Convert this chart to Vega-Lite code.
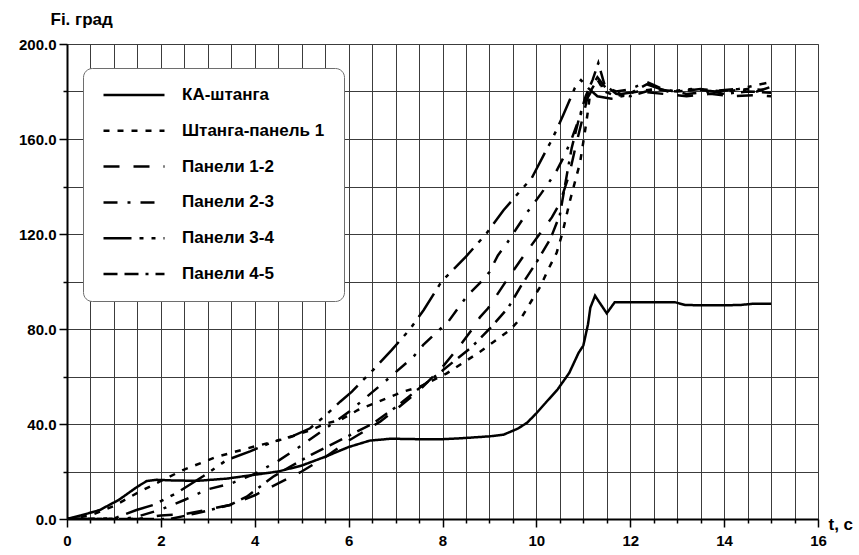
{
  "$schema": "https://vega.github.io/schema/vega-lite/v6.json",
  "width": 751,
  "height": 475,
  "autosize": {"type": "none"},
  "padding": {"left": 67, "top": 44, "right": 41, "bottom": 36},
  "background": "white",
  "config": {
    "view": {"stroke": "#7a7a7a", "strokeWidth": 1},
    "font": "Liberation Sans",
    "axis": {
      "gridColor": "#3c3c3c",
      "gridWidth": 1,
      "gridOpacity": 1,
      "domainColor": "black",
      "domainWidth": 2,
      "tickColor": "black",
      "tickWidth": 1.5,
      "labelFont": "Liberation Sans",
      "labelFontWeight": "bold",
      "labelFontSize": 15,
      "labelColor": "black",
      "labelOverlap": false,
      "labelFlush": false,
      "titleFont": "Liberation Sans",
      "titleFontWeight": "bold",
      "titleColor": "black"
    }
  },
  "data": {
    "values": [
      {"s":"КА-штанга","t":0,"v":0},{"s":"КА-штанга","t":0.3,"v":1.5},{"s":"КА-штанга","t":0.7,"v":3.8},{"s":"КА-штанга","t":1.1,"v":8},{"s":"КА-штанга","t":1.5,"v":13.6},{"s":"КА-штанга","t":1.7,"v":16},{"s":"КА-штанга","t":1.9,"v":16.5},{"s":"КА-штанга","t":2.3,"v":16.2},{"s":"КА-штанга","t":2.8,"v":16.1},{"s":"КА-штанга","t":3.4,"v":17},{"s":"КА-штанга","t":4.1,"v":18.9},{"s":"КА-штанга","t":4.5,"v":20},{"s":"КА-штанга","t":5,"v":22.5},{"s":"КА-штанга","t":5.5,"v":26.2},{"s":"КА-штанга","t":6,"v":30.3},{"s":"КА-штанга","t":6.45,"v":33},{"s":"КА-штанга","t":6.9,"v":33.8},{"s":"КА-штанга","t":7.5,"v":33.6},{"s":"КА-штанга","t":8,"v":33.6},{"s":"КА-штанга","t":8.4,"v":34},{"s":"КА-штанга","t":9,"v":34.8},{"s":"КА-штанга","t":9.3,"v":35.5},{"s":"КА-штанга","t":9.6,"v":38},{"s":"КА-штанга","t":9.8,"v":40.5},{"s":"КА-штанга","t":10,"v":44.5},{"s":"КА-штанга","t":10.2,"v":49},{"s":"КА-штанга","t":10.45,"v":54.5},{"s":"КА-штанга","t":10.7,"v":61.5},{"s":"КА-штанга","t":10.9,"v":70},{"s":"КА-штанга","t":11,"v":73},{"s":"КА-штанга","t":11.1,"v":82},{"s":"КА-штанга","t":11.15,"v":89},{"s":"КА-штанга","t":11.25,"v":94},{"s":"КА-штанга","t":11.35,"v":91},{"s":"КА-штанга","t":11.5,"v":86.6},{"s":"КА-штанга","t":11.67,"v":91.3},{"s":"КА-штанга","t":12,"v":91.3},{"s":"КА-штанга","t":12.5,"v":91.3},{"s":"КА-штанга","t":12.95,"v":91.3},{"s":"КА-штанга","t":13.17,"v":90.1},{"s":"КА-штанга","t":13.5,"v":90},{"s":"КА-штанга","t":14,"v":90},{"s":"КА-штанга","t":14.34,"v":90.1},{"s":"КА-штанга","t":14.6,"v":90.6},{"s":"КА-штанга","t":15,"v":90.6},

      {"s":"Штанга-панель 1","t":0,"v":0},{"s":"Штанга-панель 1","t":0.5,"v":1.5},{"s":"Штанга-панель 1","t":1,"v":5.5},{"s":"Штанга-панель 1","t":1.5,"v":11},{"s":"Штанга-панель 1","t":2,"v":16},{"s":"Штанга-панель 1","t":2.47,"v":20.6},{"s":"Штанга-панель 1","t":3.19,"v":26.2},{"s":"Штанга-панель 1","t":3.97,"v":30.4},{"s":"Штанга-панель 1","t":4.68,"v":34},{"s":"Штанга-панель 1","t":5.2,"v":37.5},{"s":"Штанга-панель 1","t":5.53,"v":40.3},{"s":"Штанга-панель 1","t":5.82,"v":41.7},{"s":"Штанга-панель 1","t":6.2,"v":45.9},{"s":"Штанга-панель 1","t":6.81,"v":50.8},{"s":"Штанга-панель 1","t":7.16,"v":53.6},{"s":"Штанга-панель 1","t":7.52,"v":55.7},{"s":"Штанга-панель 1","t":8.09,"v":61.3},{"s":"Штанга-панель 1","t":8.8,"v":70.4},{"s":"Штанга-панель 1","t":9.44,"v":79.6},{"s":"Штанга-панель 1","t":9.69,"v":85},{"s":"Штанга-панель 1","t":9.9,"v":92},{"s":"Штанга-панель 1","t":10.08,"v":97.7},{"s":"Штанга-панель 1","t":10.25,"v":105},{"s":"Штанга-панель 1","t":10.43,"v":112},{"s":"Штанга-панель 1","t":10.55,"v":120},{"s":"Штанга-панель 1","t":10.71,"v":133.6},{"s":"Штанга-панель 1","t":10.93,"v":150},{"s":"Штанга-панель 1","t":11.04,"v":163.8},{"s":"Штанга-панель 1","t":11.1,"v":172},{"s":"Штанга-панель 1","t":11.15,"v":180},{"s":"Штанга-панель 1","t":11.3,"v":185},{"s":"Штанга-панель 1","t":11.45,"v":180},{"s":"Штанга-панель 1","t":11.7,"v":178},{"s":"Штанга-панель 1","t":12,"v":179.5},{"s":"Штанга-панель 1","t":12.5,"v":181},{"s":"Штанга-панель 1","t":13,"v":180},{"s":"Штанга-панель 1","t":13.5,"v":181},{"s":"Штанга-панель 1","t":14,"v":180},{"s":"Штанга-панель 1","t":14.5,"v":181},{"s":"Штанга-панель 1","t":15,"v":180.5},

      {"s":"Панели 1-2","t":0,"v":0},{"s":"Панели 1-2","t":1.5,"v":0},{"s":"Панели 1-2","t":2,"v":1.5},{"s":"Панели 1-2","t":2.5,"v":2},{"s":"Панели 1-2","t":3,"v":4},{"s":"Панели 1-2","t":3.5,"v":6},{"s":"Панели 1-2","t":4,"v":10},{"s":"Панели 1-2","t":4.5,"v":15},{"s":"Панели 1-2","t":5,"v":20},{"s":"Панели 1-2","t":5.5,"v":26},{"s":"Панели 1-2","t":6,"v":33},{"s":"Панели 1-2","t":6.38,"v":37.5},{"s":"Панели 1-2","t":6.67,"v":41},{"s":"Панели 1-2","t":7,"v":46},{"s":"Панели 1-2","t":7.5,"v":54},{"s":"Панели 1-2","t":8,"v":64},{"s":"Панели 1-2","t":8.41,"v":74},{"s":"Панели 1-2","t":8.62,"v":79.6},{"s":"Панели 1-2","t":8.8,"v":85},{"s":"Панели 1-2","t":8.97,"v":88.7},{"s":"Панели 1-2","t":9.33,"v":99.4},{"s":"Панели 1-2","t":9.7,"v":110},{"s":"Панели 1-2","t":10.07,"v":120},{"s":"Панели 1-2","t":10.33,"v":127},{"s":"Панели 1-2","t":10.5,"v":133},{"s":"Панели 1-2","t":10.7,"v":145},{"s":"Панели 1-2","t":10.85,"v":158},{"s":"Панели 1-2","t":11,"v":170},{"s":"Панели 1-2","t":11.12,"v":180},{"s":"Панели 1-2","t":11.3,"v":186},{"s":"Панели 1-2","t":11.5,"v":181},{"s":"Панели 1-2","t":11.8,"v":179},{"s":"Панели 1-2","t":12.2,"v":180},{"s":"Панели 1-2","t":12.7,"v":179},{"s":"Панели 1-2","t":13.2,"v":178},{"s":"Панели 1-2","t":13.7,"v":179},{"s":"Панели 1-2","t":14.2,"v":178},{"s":"Панели 1-2","t":14.7,"v":178.5},{"s":"Панели 1-2","t":15,"v":178},

      {"s":"Панели 2-3","t":0,"v":0},{"s":"Панели 2-3","t":1.2,"v":0},{"s":"Панели 2-3","t":1.5,"v":1},{"s":"Панели 2-3","t":2,"v":4},{"s":"Панели 2-3","t":2.5,"v":8},{"s":"Панели 2-3","t":3,"v":12.5},{"s":"Панели 2-3","t":3.5,"v":15},{"s":"Панели 2-3","t":4,"v":19},{"s":"Панели 2-3","t":4.5,"v":24.5},{"s":"Панели 2-3","t":5,"v":31},{"s":"Панели 2-3","t":5.5,"v":38},{"s":"Панели 2-3","t":6,"v":45},{"s":"Панели 2-3","t":6.6,"v":55},{"s":"Панели 2-3","t":6.81,"v":58.5},{"s":"Панели 2-3","t":7.38,"v":68.3},{"s":"Панели 2-3","t":7.59,"v":73.3},{"s":"Панели 2-3","t":7.84,"v":78},{"s":"Панели 2-3","t":8.12,"v":83},{"s":"Панели 2-3","t":8.33,"v":88.7},{"s":"Панели 2-3","t":8.54,"v":94.3},{"s":"Панели 2-3","t":8.8,"v":99.4},{"s":"Панели 2-3","t":9,"v":104},{"s":"Панели 2-3","t":9.18,"v":111},{"s":"Панели 2-3","t":9.37,"v":116},{"s":"Панели 2-3","t":9.58,"v":122.4},{"s":"Панели 2-3","t":9.8,"v":129},{"s":"Панели 2-3","t":10.1,"v":137},{"s":"Панели 2-3","t":10.4,"v":145.5},{"s":"Панели 2-3","t":10.6,"v":153},{"s":"Панели 2-3","t":10.75,"v":160},{"s":"Панели 2-3","t":10.9,"v":168},{"s":"Панели 2-3","t":11.05,"v":176},{"s":"Панели 2-3","t":11.2,"v":181},{"s":"Панели 2-3","t":11.4,"v":182.5},{"s":"Панели 2-3","t":11.7,"v":180},{"s":"Панели 2-3","t":12,"v":181},{"s":"Панели 2-3","t":12.35,"v":184},{"s":"Панели 2-3","t":12.7,"v":181},{"s":"Панели 2-3","t":13.2,"v":179},{"s":"Панели 2-3","t":13.7,"v":180},{"s":"Панели 2-3","t":14.2,"v":181},{"s":"Панели 2-3","t":14.7,"v":180},{"s":"Панели 2-3","t":15,"v":182},

      {"s":"Панели 3-4","t":0,"v":0},{"s":"Панели 3-4","t":1,"v":0.2},{"s":"Панели 3-4","t":1.48,"v":3.8},{"s":"Панели 3-4","t":1.84,"v":5.9},{"s":"Панели 3-4","t":2.33,"v":10.9},{"s":"Панели 3-4","t":2.9,"v":18},{"s":"Панели 3-4","t":3.4,"v":24.8},{"s":"Панели 3-4","t":3.9,"v":28.5},{"s":"Панели 3-4","t":4.39,"v":32.5},{"s":"Панели 3-4","t":4.82,"v":35},{"s":"Панели 3-4","t":5.18,"v":38.2},{"s":"Панели 3-4","t":5.5,"v":43.5},{"s":"Панели 3-4","t":5.82,"v":49.4},{"s":"Панели 3-4","t":6.07,"v":53.6},{"s":"Панели 3-4","t":6.31,"v":58.5},{"s":"Панели 3-4","t":6.52,"v":62.7},{"s":"Панели 3-4","t":6.92,"v":71.2},{"s":"Панели 3-4","t":7.31,"v":80},{"s":"Панели 3-4","t":7.6,"v":88},{"s":"Панели 3-4","t":7.98,"v":100},{"s":"Панели 3-4","t":8.5,"v":110.5},{"s":"Панели 3-4","t":8.94,"v":120.3},{"s":"Панели 3-4","t":9.3,"v":130},{"s":"Панели 3-4","t":9.65,"v":138},{"s":"Панели 3-4","t":9.9,"v":143.5},{"s":"Панели 3-4","t":10.15,"v":153},{"s":"Панели 3-4","t":10.29,"v":158.2},{"s":"Панели 3-4","t":10.43,"v":163.8},{"s":"Панели 3-4","t":10.57,"v":170},{"s":"Панели 3-4","t":10.71,"v":176.4},{"s":"Панели 3-4","t":10.82,"v":181.5},{"s":"Панели 3-4","t":10.95,"v":184.8},{"s":"Панели 3-4","t":11.1,"v":181.5},{"s":"Панели 3-4","t":11.3,"v":178},{"s":"Панели 3-4","t":11.6,"v":177},{"s":"Панели 3-4","t":11.93,"v":178.5},{"s":"Панели 3-4","t":12.35,"v":183},{"s":"Панели 3-4","t":12.8,"v":180},{"s":"Панели 3-4","t":13.3,"v":181},{"s":"Панели 3-4","t":13.8,"v":180},{"s":"Панели 3-4","t":14.3,"v":181},{"s":"Панели 3-4","t":14.9,"v":183.6},

      {"s":"Панели 4-5","t":0,"v":0},{"s":"Панели 4-5","t":2.2,"v":0},{"s":"Панели 4-5","t":2.76,"v":2.4},{"s":"Панели 4-5","t":3.19,"v":4.5},{"s":"Панели 4-5","t":3.47,"v":5.9},{"s":"Панели 4-5","t":3.83,"v":9.4},{"s":"Панели 4-5","t":4.11,"v":13.6},{"s":"Панели 4-5","t":4.39,"v":17.8},{"s":"Панели 4-5","t":4.75,"v":22},{"s":"Панели 4-5","t":5.2,"v":27},{"s":"Панели 4-5","t":5.6,"v":31},{"s":"Панели 4-5","t":6,"v":35},{"s":"Панели 4-5","t":6.5,"v":40},{"s":"Панели 4-5","t":7,"v":47},{"s":"Панели 4-5","t":7.5,"v":55},{"s":"Панели 4-5","t":8,"v":62.5},{"s":"Панели 4-5","t":8.23,"v":66.2},{"s":"Панели 4-5","t":8.6,"v":72},{"s":"Панели 4-5","t":9,"v":80},{"s":"Панели 4-5","t":9.4,"v":89},{"s":"Панели 4-5","t":9.7,"v":99},{"s":"Панели 4-5","t":10,"v":108},{"s":"Панели 4-5","t":10.3,"v":118},{"s":"Панели 4-5","t":10.5,"v":128},{"s":"Панели 4-5","t":10.65,"v":145},{"s":"Панели 4-5","t":10.75,"v":156},{"s":"Панели 4-5","t":10.9,"v":168},{"s":"Панели 4-5","t":11.05,"v":178},{"s":"Панели 4-5","t":11.2,"v":185},{"s":"Панели 4-5","t":11.32,"v":192},{"s":"Панели 4-5","t":11.45,"v":183},{"s":"Панели 4-5","t":11.7,"v":179},{"s":"Панели 4-5","t":12,"v":178},{"s":"Панели 4-5","t":12.5,"v":181},{"s":"Панели 4-5","t":13,"v":180},{"s":"Панели 4-5","t":13.5,"v":181},{"s":"Панели 4-5","t":14,"v":179},{"s":"Панели 4-5","t":14.5,"v":180},{"s":"Панели 4-5","t":15,"v":179.5}
    ]
  },
  "mark": {"type": "line", "color": "black", "strokeWidth": 2.5, "strokeCap": "butt", "clip": true},
  "encoding": {
    "x": {
      "field": "t", "type": "quantitative",
      "scale": {"domain": [0, 16], "nice": false, "zero": false},
      "axis": {
        "values": [0,0.5,1,1.5,2,2.5,3,3.5,4,4.5,5,5.5,6,6.5,7,7.5,8,8.5,9,9.5,10,10.5,11,11.5,12,12.5,13,13.5,14,14.5,15,15.5,16],
        "labelExpr": "datum.value % 2 === 0 ? format(datum.value, 'd') : ''",
        "tickSize": {"condition": {"test": "datum.value % 2 === 0", "value": 8}, "value": 4},
        "labelPadding": 6,
        "grid": true,
        "title": "t, c",
        "titleFontSize": 17,
        "titleX": 761,
        "titleY": 10,
        "titleAlign": "left",
        "titleBaseline": "alphabetic",
        "titleAnchor": "start"
      }
    },
    "y": {
      "field": "v", "type": "quantitative",
      "scale": {"domain": [0, 200], "nice": false},
      "axis": {
        "values": [0,20,40,60,80,100,120,140,160,180,200],
        "labelExpr": "datum.value % 40 === 0 ? format(datum.value, '.1f') : ''",
        "tickSize": {"condition": {"test": "datum.value % 40 === 0", "value": 8}, "value": 4},
        "labelPadding": 3,
        "grid": true,
        "title": "Fi. град",
        "titleFontSize": 17,
        "titleAngle": 0,
        "titleX": -17,
        "titleY": -20,
        "titleAlign": "left",
        "titleBaseline": "alphabetic",
        "titleAnchor": "start"
      }
    },
    "strokeDash": {
      "field": "s", "type": "nominal",
      "scale": {
        "domain": ["КА-штанга","Штанга-панель 1","Панели 1-2","Панели 2-3","Панели 3-4","Панели 4-5"],
        "range": [[1,0],[6,8],[16,14],[14,10,3,10],[28,8,4,8,4,8],[14,7,14,7,3,7]]
      },
      "legend": {
        "title": null,
        "orient": "none",
        "legendX": 16,
        "legendY": 24,
        "padding": 19,
        "fillColor": "white",
        "strokeColor": "#6e6e6e",
        "cornerRadius": 9,
        "symbolType": "stroke",
        "symbolSize": 3721,
        "symbolStrokeWidth": 2.5,
        "symbolStrokeColor": "black",
        "clipHeight": 16,
        "labelFont": "Liberation Sans",
        "labelFontSize": 17,
        "labelFontWeight": "bold",
        "labelColor": "black",
        "labelOffset": 16,
        "labelLimit": 0,
        "rowPadding": 18.8
      }
    }
  }
}
